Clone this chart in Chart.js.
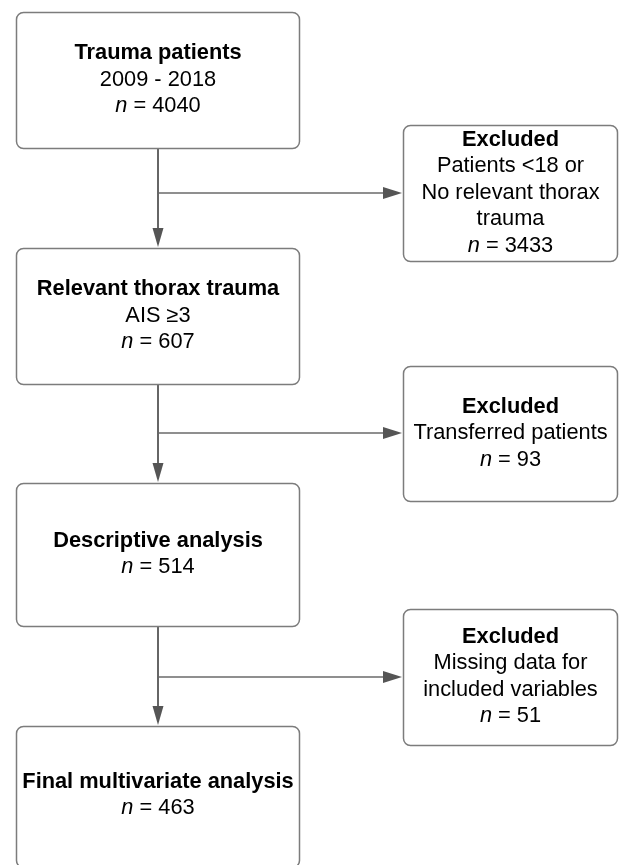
<!DOCTYPE html>
<html>
<head>
<meta charset="utf-8">
<script src="https://cdn.jsdelivr.net/npm/chart.js@4/dist/chart.umd.min.js"></script>
<style>
  html, body { margin: 0; padding: 0; background: #ffffff; }
  #wrap { width: 619px; height: 865px; position: relative; }
</style>
</head>
<body>
<div id="wrap"><canvas id="flow"></canvas></div>
<script>
// pasos del flujo principal
const stepTitles = ["Trauma patients", "Relevant thorax trauma", "Descriptive analysis", "Final multivariate analysis"];
const stepDetails = [["2009 - 2018"], ["AIS \u22653"], [], []];
const stepCounts = [4040, 607, 514, 463];

// cajas de excluidos
const excludedTitle = "Excluded";
const excludedReasons = [
  ["Patients <18 or", "No relevant thorax", "trauma"],
  ["Transferred patients"],
  ["Missing data for", "included variables"],
];
const excludedCounts = [3433, 93, 51];

// posiciones (unidades del eje = px de la imagen)
const stepLeft = 16, stepRight = 300;
const stepTop = [12, 248, 483, 726];
const stepBottom = [149, 385, 627, 868];
const sideLeft = 403, sideRight = 618;
const sideTop = [125, 366, 609];
const sideBottom = [262, 502, 746];
const spineX = 158;
const branchY = [193, 433, 677];

const FONT = "'Liberation Sans', Arial, sans-serif";
const FONT_SIZE = 21.8;
const LINE_H = 26.5;

// conectores como datasets de lineas
let datasets = [];
for (let i = 0; i < branchY.length; i++) {
  datasets.push({
    data: [{ x: spineX, y: stepBottom[i] }, { x: spineX, y: stepTop[i + 1] - 10 }],
    borderColor: "#666666",
    borderWidth: 2,
  });
  datasets.push({
    data: [{ x: spineX, y: branchY[i] }, { x: sideLeft - 10, y: branchY[i] }],
    borderColor: "#6a6a6a",
    borderWidth: 1.5,
  });
}
datasets = datasets.map((d) => ({ ...d, showLine: true, pointRadius: 0, fill: false }));

let roundRect = (ctx, x1, y1, x2, y2, r) => {
  ctx.beginPath();
  ctx.moveTo(x1 + r, y1);
  ctx.lineTo(x2 - r, y1);
  ctx.arcTo(x2, y1, x2, y1 + r, r);
  ctx.lineTo(x2, y2 - r);
  ctx.arcTo(x2, y2, x2 - r, y2, r);
  ctx.lineTo(x1 + r, y2);
  ctx.arcTo(x1, y2, x1, y2 - r, r);
  ctx.lineTo(x1, y1 + r);
  ctx.arcTo(x1, y1, x1 + r, y1, r);
  ctx.closePath();
};

// linea "n = 123" con la n en cursiva
let drawCount = (ctx, cx, cy, value) => {
  let italic = `italic ${FONT_SIZE}px ${FONT}`;
  let normal = `${FONT_SIZE}px ${FONT}`;
  ctx.font = italic;
  let w1 = ctx.measureText("n").width;
  ctx.font = normal;
  let rest = " = " + value;
  let w2 = ctx.measureText(rest).width;
  let x0 = cx - (w1 + w2) / 2;
  ctx.textAlign = "left";
  ctx.font = italic;
  ctx.fillText("n", x0, cy);
  ctx.font = normal;
  ctx.fillText(rest, x0 + w1, cy);
};

let drawBox = (ctx, sx, sy, l, t, r, b, title, lines, count) => {
  let x1 = sx.getPixelForValue(l), x2 = sx.getPixelForValue(r);
  let y1 = sy.getPixelForValue(t), y2 = sy.getPixelForValue(b);
  roundRect(ctx, x1 + 0.5, y1 + 0.5, x2 - 0.5, y2 - 0.5, 7);
  ctx.fillStyle = "#ffffff";
  ctx.fill();
  ctx.strokeStyle = "#7c7c7c";
  ctx.lineWidth = 1.5;
  ctx.stroke();

  let total = 2 + lines.length;
  let cx = (x1 + x2) / 2;
  let cy = (Math.min(y2, 866) + y1) / 2 - 1;
  let first = cy - ((total - 1) * LINE_H) / 2;
  ctx.fillStyle = "#000000";
  ctx.textBaseline = "middle";
  ctx.textAlign = "center";
  ctx.font = `bold ${FONT_SIZE}px ${FONT}`;
  ctx.fillText(title, cx, first);
  ctx.font = `${FONT_SIZE}px ${FONT}`;
  lines.forEach((txt, k) => {
    ctx.textAlign = "center";
    ctx.fillText(txt, cx, first + (k + 1) * LINE_H);
  });
  drawCount(ctx, cx, first + (total - 1) * LINE_H, count);
};

let arrowHead = (ctx, x, y, dir) => {
  ctx.beginPath();
  if (dir === "down") {
    ctx.moveTo(x, y);
    ctx.lineTo(x - 5.5, y - 19);
    ctx.lineTo(x + 5.5, y - 19);
  } else {
    ctx.moveTo(x, y);
    ctx.lineTo(x - 19, y - 6);
    ctx.lineTo(x - 19, y + 6);
  }
  ctx.closePath();
  ctx.fillStyle = "#555555";
  ctx.fill();
};

const flowPlugin = {
  id: "flowBoxes",
  afterDatasetsDraw(chart) {
    let ctx = chart.ctx;
    let sx = chart.scales.x, sy = chart.scales.y;
    ctx.save();
    for (let i = 0; i < branchY.length; i++) {
      arrowHead(ctx, sx.getPixelForValue(spineX), sy.getPixelForValue(stepTop[i + 1]) - 1, "down");
      arrowHead(ctx, sx.getPixelForValue(sideLeft) - 1, sy.getPixelForValue(branchY[i]), "right");
    }
    stepTitles.forEach((title, i) => {
      drawBox(ctx, sx, sy, stepLeft, stepTop[i], stepRight, stepBottom[i], title, stepDetails[i], stepCounts[i]);
    });
    excludedReasons.forEach((lines, i) => {
      drawBox(ctx, sx, sy, sideLeft, sideTop[i], sideRight, sideBottom[i], excludedTitle, lines, excludedCounts[i]);
    });
    ctx.restore();
  },
};

let config = {
  type: "scatter",
  data: { datasets: datasets },
  options: {
    responsive: true,
    maintainAspectRatio: false,
    animation: false,
    layout: { padding: 0 },
    plugins: { legend: { display: false }, tooltip: { enabled: false } },
    scales: {
      x: { type: "linear", min: 0, max: 619, display: false },
      y: { type: "linear", min: 0, max: 865, reverse: true, display: false },
    },
  },
  plugins: [flowPlugin],
};

let chart1 = new Chart(document.getElementById("flow"), config);
</script>
</body>
</html>
